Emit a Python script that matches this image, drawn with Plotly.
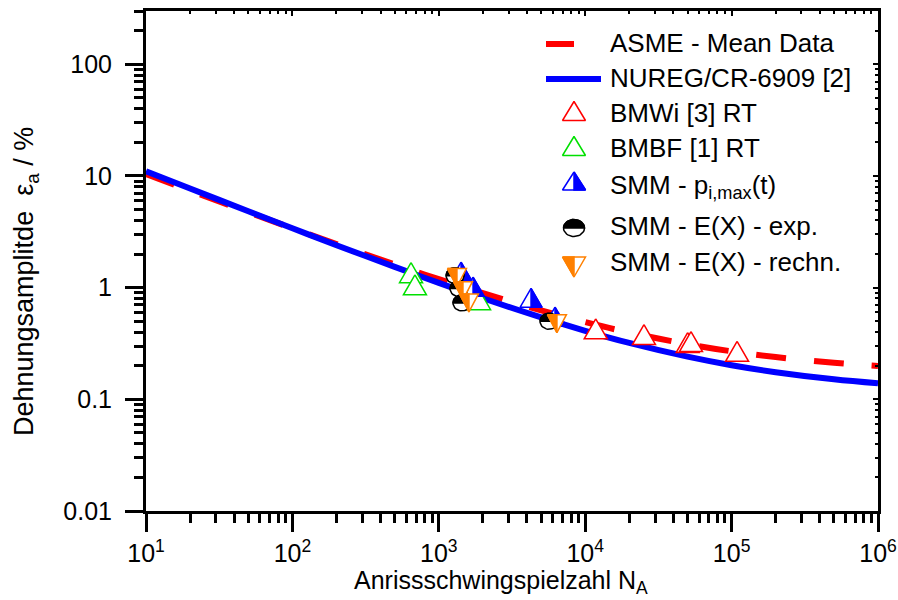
import math
import plotly.graph_objects as go

# ---------------- data ----------------
N_curve = [10, 20, 50, 100, 200, 500, 1e3, 2e3, 5e3, 1e4, 2e4, 5e4, 1e5, 2e5, 5e5, 1e6]
eps_asme = [10.40, 7.40, 4.74, 3.40, 2.46, 1.61, 1.19, 0.891, 0.625, 0.491, 0.396,
            0.312, 0.269, 0.239, 0.213, 0.199]
eps_nureg = [11.02, 7.72, 4.83, 3.40, 2.40, 1.534, 1.103, 0.803, 0.541, 0.411, 0.320,
             0.241, 0.202, 0.175, 0.151, 0.139]

N_bmwi = [11800, 25200, 50100, 52800, 109000]
eps_bmwi = [0.428, 0.380, 0.322, 0.329, 0.269]
N_bmbf = [646, 687, 1884]
eps_bmbf = [1.36, 1.06, 0.78]
N_smm_p = [1419, 1714, 4266, 6220]
eps_smm_p = [1.39, 1.02, 0.81, 0.55]
N_smm_exp = [1291, 1374, 1439, 5660]
eps_smm_exp = [1.28, 0.98, 0.73, 0.50]
N_smm_calc = [1330, 1462, 1607, 6410]
eps_smm_calc = [1.23, 0.94, 0.73, 0.476]

x_tickvals = [10, 100, 1e3, 1e4, 1e5, 1e6]
x_ticktext = ["10<sup>1</sup>", "10<sup>2</sup>", "10<sup>3</sup>", "10<sup>4</sup>",
              "10<sup>5</sup>", "10<sup>6</sup>"]
y_tickvals = [0.01, 0.1, 1, 10, 100]
y_ticktext = ["0.01", "0.1", "1", "10", "100"]

legend_names = ["ASME - Mean Data", "NUREG/CR-6909 [2]", "BMWi [3] RT", "BMBF [1] RT",
                "SMM - p<sub>i,max</sub>(t)", "SMM - E(X) - exp.", "SMM - E(X) - rechn."]
x_title = "Anrissschwingspielzahl N<sub>A</sub>"
y_title = "Dehnungsamplitde\u00a0\u00a0\u03b5<sub>a</sub> / %"

# ---------------- layout geometry ----------------
W, H = 898, 600
ML, MR, MT, MB = 146, 20, 11, 89
PW, PH = W - ML - MR, H - MT - MB
XR = [1, 6]
YR = [-2, math.log10(300)]
PXX = PW / (XR[1] - XR[0])
PXY = PH / (YR[1] - YR[0])

FONT = "Liberation Sans, Arial, sans-serif"
RED, BLUE, GREEN, ORANGE, BLACK = "#ff0000", "#0000ff", "#00e000", "#ff8000", "#000000"


def minor_vals(lo, hi):
    out = []
    for d in range(lo, hi):
        for k in range(2, 10):
            out.append(k * 10 ** d)
    return out


def px2paper(px, py):
    return (px - ML) / PW, 1 - (py - MT) / PH


# marker shapes (pixel offsets, y downwards)
def tri_up(w, h):
    return [(0, -h / 2), (w / 2, h / 2), (-w / 2, h / 2)]


def tri_up_right(w, h):
    return [(0, -h / 2), (w / 2, h / 2), (0, h / 2)]


def tri_down(w, h):
    return [(-w / 2, -h / 2), (w / 2, -h / 2), (0, h / 2)]


def tri_down_left(w, h):
    return [(-w / 2, -h / 2), (0, -h / 2), (0, h / 2)]


def ellipse(rx, ry, a0=0, a1=360, n=40):
    return [(rx * math.cos(math.radians(a0 + (a1 - a0) * i / n)),
             ry * math.sin(math.radians(a0 + (a1 - a0) * i / n))) for i in range(n + 1)]


def data_poly(N, e, pts):
    xs = [N * 10 ** (dx / PXX) for dx, dy in pts]
    ys = [e * 10 ** (-dy / PXY) for dx, dy in pts]
    return xs + [xs[0]], ys + [ys[0]]


def pix_poly(cx, cy, pts):
    xs = [cx + dx for dx, dy in pts]
    ys = [cy + dy for dx, dy in pts]
    return xs + [xs[0]], ys + [ys[0]]


fig = go.Figure()

# curves
fig.add_trace(go.Scatter(x=N_curve, y=eps_asme, mode="lines", line_shape="spline",
                         line=dict(color=RED, width=6, dash="30px,28px"),
                         name=legend_names[0], showlegend=False, hoverinfo="skip"))
fig.add_trace(go.Scatter(x=N_curve, y=eps_nureg, mode="lines", line_shape="spline",
                         line=dict(color=BLUE, width=6),
                         name=legend_names[1], showlegend=False, hoverinfo="skip"))


def add_marker(xs, ys, color, full, half, conv, xa="x", ya="y"):
    fx, fy = conv(xs, ys, full)
    fig.add_trace(go.Scatter(x=fx, y=fy, mode="lines", fill="toself", fillcolor="white",
                             line=dict(color=color, width=1.5), xaxis=xa, yaxis=ya,
                             showlegend=False, hoverinfo="skip"))
    if half is not None:
        hx, hy = conv(xs, ys, half)
        fig.add_trace(go.Scatter(x=hx, y=hy, mode="lines", fill="toself", fillcolor=color,
                                 line=dict(color=color, width=1.5), xaxis=xa, yaxis=ya,
                                 showlegend=False, hoverinfo="skip"))


def series(Ns, es, color, full, half):
    for N, e in zip(Ns, es):
        add_marker(N, e, color, full, half, data_poly)


series(N_bmwi, eps_bmwi, RED, tri_up(23, 20), None)
series(N_bmbf, eps_bmbf, GREEN, tri_up(23, 20), None)
series(N_smm_p, eps_smm_p, BLUE, tri_up(22, 19), tri_up_right(22, 19))
series(N_smm_exp, eps_smm_exp, BLACK, ellipse(9, 8), ellipse(9, 8, 180, 360))
series(N_smm_calc, eps_smm_calc, ORANGE, tri_down(19, 18), tri_down_left(19, 18))

# mirror-tick axes (top/right)
fig.add_trace(go.Scatter(x=[], y=[], xaxis="x2", yaxis="y2", showlegend=False))

# ---------------- legend (pixel axes x3/y3) ----------------
LX_SYM, LX_TXT = 574, 608
row_sym = [44, 79, 111, 146, 181, 228, 267]
row_txt = [43, 78, 113, 148, 186, 226, 262]
fig.add_trace(go.Scatter(x=[546, 574], y=[row_sym[0]] * 2, mode="lines", xaxis="x3", yaxis="y3",
                         line=dict(color=RED, width=6), showlegend=False, hoverinfo="skip"))
fig.add_trace(go.Scatter(x=[546, 601], y=[row_sym[1]] * 2, mode="lines", xaxis="x3", yaxis="y3",
                         line=dict(color=BLUE, width=6), showlegend=False, hoverinfo="skip"))
add_marker(LX_SYM, row_sym[2], RED, tri_up(23, 19), None, pix_poly, "x3", "y3")
add_marker(LX_SYM, row_sym[3], GREEN, tri_up(23, 19), None, pix_poly, "x3", "y3")
add_marker(LX_SYM, row_sym[4], BLUE, tri_up(23, 18), tri_up_right(23, 18), pix_poly, "x3", "y3")
add_marker(LX_SYM, row_sym[5], BLACK, ellipse(10.5, 8.5), ellipse(10.5, 8.5, 180, 360),
           pix_poly, "x3", "y3")
add_marker(LX_SYM, row_sym[6], ORANGE, tri_down(23, 20), tri_down_left(23, 20), pix_poly,
           "x3", "y3")

annotations = []
for name, yy in zip(legend_names, row_txt):
    px_, py_ = px2paper(LX_TXT, yy)
    annotations.append(dict(x=px_, y=py_, xref="paper", yref="paper", text=name,
                            showarrow=False, xanchor="left", yanchor="middle",
                            font=dict(family=FONT, size=26, color="black")))

# axis titles
tx, ty = px2paper(501, 582)
annotations.append(dict(x=tx, y=ty, xref="paper", yref="paper", text=x_title, showarrow=False,
                        xanchor="center", yanchor="middle",
                        font=dict(family=FONT, size=25, color="black")))
tx, ty = px2paper(26, 282)
annotations.append(dict(x=tx, y=ty, xref="paper", yref="paper", textangle=-90,
                        text=y_title, showarrow=False, xanchor="center", yanchor="middle",
                        font=dict(family=FONT, size=27, color="black")))

tickfont = dict(family=FONT, size=25, color="black")
common = dict(showgrid=False, zeroline=False, showline=True, linecolor="black", linewidth=3,
              mirror=True, ticks="outside", ticklen=18, tickwidth=2.5, tickcolor="black",
              tickfont=tickfont, type="log", automargin=False)

fig.update_layout(
    width=W, height=H, autosize=False,
    margin=dict(l=ML, r=MR, t=MT, b=MB, pad=0, autoexpand=False),
    paper_bgcolor="white", plot_bgcolor="white",
    showlegend=False,
    annotations=annotations,
    xaxis=dict(range=XR, tickmode="array", tickvals=x_tickvals, ticktext=x_ticktext,
               minor=dict(tickvals=minor_vals(1, 6), ticks="outside", ticklen=9,
                          tickwidth=2.5, tickcolor="black", showgrid=False),
               ticklabelstandoff=0, **common),
    yaxis=dict(range=YR, tickmode="array", tickvals=y_tickvals, ticktext=y_ticktext,
               minor=dict(tickvals=minor_vals(-2, 3), ticks="outside", ticklen=9,
                          tickwidth=2.5, tickcolor="black", showgrid=False),
               ticklabelstandoff=8, **common),
    xaxis2=dict(type="log", range=XR, overlaying="x", side="top", anchor="y2",
                showgrid=False, zeroline=False, showline=False, showticklabels=False,
                automargin=False,
                ticks="inside", ticklen=5, tickwidth=2, tickcolor="black",
                tickmode="array", tickvals=x_tickvals,
                minor=dict(tickvals=minor_vals(1, 6), ticks="inside", ticklen=3,
                           tickwidth=1.5, tickcolor="black", showgrid=False)),
    yaxis2=dict(type="log", range=YR, overlaying="y", side="right", anchor="x2",
                showgrid=False, zeroline=False, showline=False, showticklabels=False,
                automargin=False,
                ticks="inside", ticklen=5, tickwidth=2, tickcolor="black",
                tickmode="array", tickvals=y_tickvals,
                minor=dict(tickvals=minor_vals(-2, 3), ticks="inside", ticklen=3,
                           tickwidth=1.5, tickcolor="black", showgrid=False)),
    xaxis3=dict(range=[ML, W - MR], overlaying="x", anchor="y3", visible=False,
                fixedrange=True, automargin=False),
    yaxis3=dict(range=[H - MB, MT], overlaying="y", anchor="x3", visible=False,
                fixedrange=True, automargin=False),
)

fig.write_html("out.html", config={"displayModeBar": False, "responsive": False},
               post_script="document.body.style.margin='0';")
